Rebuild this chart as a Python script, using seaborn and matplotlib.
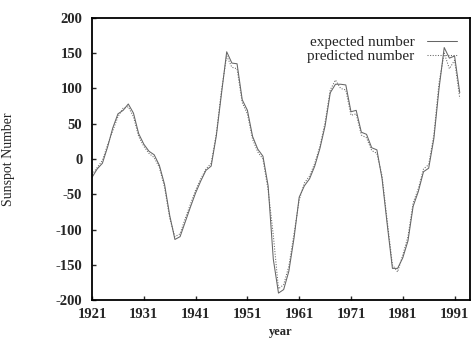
import matplotlib
matplotlib.use("Agg")
import matplotlib.pyplot as plt
import seaborn as sns
import pandas as pd

years = list(range(1921, 1993))
expected = [-26, -14, -6, 17, 44, 64, 69, 78, 65, 36, 21, 11, 6,
            -9, -36, -80, -114, -110, -89, -68, -48, -31, -16, -10,
            33, 93, 152, 136, 135, 84, 69, 32, 14, 4,
            -38, -142, -190, -185, -159, -112, -54, -38, -28, -10,
            15, 47, 94, 106, 106, 105, 67, 69, 38, 35, 16, 13,
            -28, -93, -155, -155, -140, -116, -67, -46, -18, -13,
            29, 100, 158, 143, 146, 94]
predicted = [-22, -12, -2, 20, 40, 60, 72, 74, 60, 32, 18, 8, 2,
             -12, -40, -84, -110, -106, -84, -64, -44, -28, -14, -6,
             36, 98, 146, 130, 128, 80, 64, 28, 10, 0,
             -44, -108, -184, -178, -152, -106, -58, -34, -24, -6,
             18, 52, 98, 112, 100, 98, 62, 64, 34, 30, 12, 8,
             -24, -88, -150, -160, -136, -110, -62, -42, -14, -8,
             34, 108, 150, 128, 140, 86]
series_names = ["expected number", "predicted number"]
x_ticks = [1921, 1931, 1941, 1951, 1961, 1971, 1981, 1991]
y_ticks = [-200, -150, -100, -50, 0, 50, 100, 150, 200]

df = pd.DataFrame({
    "year": years * 2,
    "value": expected + predicted,
    "series": [series_names[0]] * len(years) + [series_names[1]] * len(years),
})

sns.set_style("ticks")
plt.rcParams["font.family"] = ["Liberation Serif", "DejaVu Serif"]
plt.rcParams["axes.unicode_minus"] = False

fig = plt.figure(figsize=(4.72, 3.38), dpi=100)
ax = fig.add_axes([0.195, 0.112, 0.801, 0.835])

sns.lineplot(data=df, x="year", y="value", style="series",
             style_order=series_names,
             dashes={series_names[0]: "", series_names[1]: (1, 1.5)},
             color="#666666", linewidth=0.75, ax=ax)

ax.set_xlim(1921, 1994)
ax.set_ylim(-200, 200)
ax.set_xticks(x_ticks)
ax.set_yticks(y_ticks)
ax.tick_params(direction="in", length=3, width=1, labelsize=10.5)
ax.tick_params(axis="x", pad=6)
ax.tick_params(axis="y", pad=7)
for lab in ax.get_xticklabels() + ax.get_yticklabels():
    lab.set_fontweight("bold")
for s in ax.spines.values():
    s.set_linewidth(1.3)
    s.set_color("black")
    s.set_visible(True)

ax.set_xlabel("year", fontsize=9, fontweight="bold", labelpad=0)
ax.xaxis.set_label_coords(0.5, -0.09)
ax.set_ylabel("Sunspot Number", fontsize=10, labelpad=0)
ax.yaxis.set_label_coords(-0.205, 0.5)

leg = ax.legend(loc="upper right", bbox_to_anchor=(0.99, 0.97),
                frameon=False, fontsize=11,
                handlelength=2.0, handletextpad=0.8, labelspacing=0.0,
                markerfirst=False, borderaxespad=0.2)

fig.savefig("out.png", dpi=100)
